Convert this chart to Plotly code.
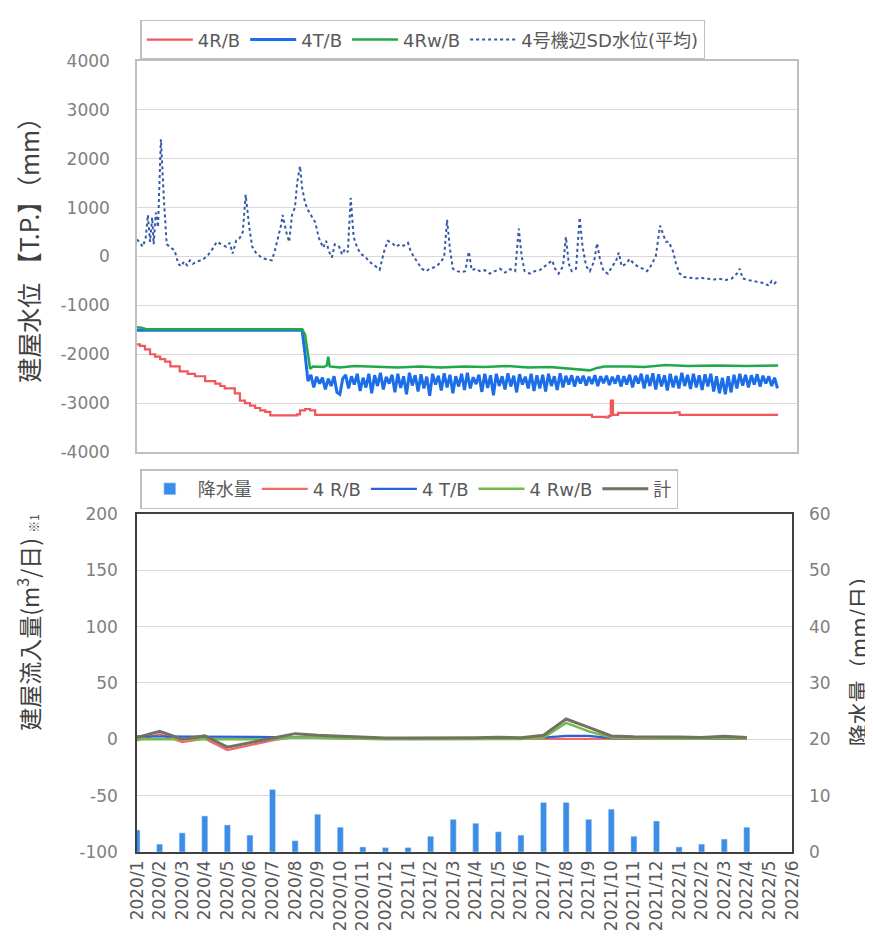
import pandas as pd
import plotly.graph_objects as go

START = pd.Timestamp("2020-01-01")

# ---- top panel: building water level [T.P. mm], x = days since 2020-01-01 ----
r_b_days = [0, 4, 11, 18, 25, 32, 39, 46, 57, 59, 68, 70, 80, 90, 94, 104, 108, 115,
            121, 131, 135, 142, 149, 156, 163, 170, 177, 184, 204, 221, 225, 232, 239,
            246, 625, 628, 647, 651, 654, 657, 664, 742, 749, 885]
r_b_level = [-1800, -1830, -1900, -2000, -2050, -2100, -2150, -2250, -2250, -2350, -2350,
             -2400, -2450, -2450, -2550, -2550, -2600, -2650, -2700, -2700, -2800, -2950,
             -3000, -3050, -3100, -3150, -3180, -3250, -3250, -3230, -3150, -3120, -3150,
             -3240, -3240, -3280, -3290, -3260, -2950, -3240, -3200, -3190, -3240, -3240]

t_b_head_days = [0, 228, 232]
t_b_head = [-1510, -1510, -2000]
t_b_noise_start = 236   # readings every 4th day from here on
t_b_noise = [
    -2550, -2420, -2680, -2460, -2600, -2480, -2720, -2500, -2650, -2450,
    -2780, -2820, -2500, -2420, -2700, -2450, -2620, -2400, -2750, -2480,
    -2680, -2400, -2800, -2430, -2650, -2380, -2720, -2460, -2600, -2420,
    -2780, -2400, -2690, -2450, -2820, -2380, -2640, -2430, -2760, -2410,
    -2700, -2460, -2850, -2400, -2620, -2440, -2740, -2390, -2680, -2420,
    -2800, -2450, -2660, -2400, -2730, -2380, -2700, -2470, -2610, -2420,
    -2770, -2400, -2690, -2430, -2840, -2400, -2650, -2450, -2720, -2390,
    -2660, -2440, -2780, -2410, -2620, -2460, -2700, -2400, -2750, -2430,
    -2700, -2420, -2760, -2400, -2650, -2450, -2730, -2390, -2680, -2440,
    -2620, -2430, -2660, -2450, -2600, -2440, -2640, -2460, -2610, -2430,
    -2650, -2450, -2590, -2440, -2630, -2460, -2600, -2430, -2660, -2450,
    -2620, -2420, -2680, -2440, -2600, -2400, -2700, -2420, -2650, -2390,
    -2720, -2410, -2660, -2430, -2740, -2400, -2680, -2440, -2700, -2380,
    -2650, -2420, -2710, -2400, -2680, -2430, -2730, -2410, -2660, -2400,
    -2760, -2450, -2800, -2480, -2820, -2450, -2780, -2420, -2700, -2400,
    -2640, -2420, -2680, -2430, -2620, -2410, -2660, -2440, -2600, -2450,
    -2650, -2480, -2700,
]

rw_b_days = [0, 6, 13, 228, 232, 236, 239, 243, 250, 258, 262, 264, 266, 280, 300, 330,
             360, 390, 420, 450, 480, 510, 540, 570, 600, 615, 625, 635, 645, 680, 700,
             730, 760, 800, 840, 885]
rw_b_level = [-1450, -1460, -1490, -1490, -1600, -2000, -2300, -2250, -2250, -2260, -2230,
              -2050, -2250, -2270, -2240, -2260, -2270, -2250, -2270, -2250, -2260, -2240,
              -2270, -2260, -2290, -2320, -2330, -2280, -2250, -2250, -2260, -2220, -2240,
              -2230, -2240, -2230]

sd_days = [0, 4, 8, 12, 15, 18, 21, 23, 26, 29, 33, 37, 41, 47, 52, 57, 61, 65, 69, 73,
           77, 81, 87, 92, 98, 104, 110, 117, 123, 128, 132, 137, 142, 146, 150, 155, 159,
           164, 170, 175, 181, 186, 190, 195, 199, 201, 206, 210, 214, 218, 221, 225, 228,
           232, 236, 240, 246, 251, 257, 261, 265, 269, 273, 279, 283, 287, 291, 295, 299,
           304, 309, 315, 320, 326, 331, 335, 341, 346, 352, 357, 363, 368, 374, 378, 382,
           388, 393, 399, 404, 410, 415, 420, 424, 428, 432, 436, 442, 447, 453, 458, 462,
           468, 473, 480, 487, 494, 501, 508, 515, 522, 527, 531, 535, 542, 549, 556, 563,
           569, 573, 577, 582, 588, 592, 596, 600, 606, 611, 615, 620, 625, 631, 635, 639,
           644, 650, 656, 661, 665, 669, 675, 680, 686, 691, 698, 704, 709, 716, 722, 726,
           730, 734, 740, 744, 749, 755, 763, 771, 780, 788, 796, 805, 813, 821, 828, 832,
           836, 843, 851, 860, 867, 872, 876, 880, 885]
sd_level = [350, 280, 200, 380, 850, 300, 800, 250, 900, 600, 2400, 1200, 250, 180, 120,
            -150, -200, -100, -180, -80, -150, -120, -90, -50, 30, 150, 300, 250, 200, 280,
            60, 330, 380, 500, 1260, 600, 200, 80, 0, -40, -60, -80, 100, 400, 650, 850,
            500, 300, 850, 1000, 1500, 1850, 1400, 1100, 950, 850, 700, 380, 180, 320, 100,
            -20, 250, 200, 40, 150, 90, 1200, 400, 180, 50, 0, -100, -160, -230, -270, 100,
            320, 280, 200, 250, 220, 280, 100, 0, -150, -250, -300, -250, -220, -180, -100,
            0, 750, 150, -250, -300, -320, -300, 100, -280, -250, -300, -280, -350, -300,
            -250, -330, -260, -300, 570, 0, -300, -350, -300, -280, -200, -120, -80, -250,
            -350, -200, 400, -150, -300, -250, 800, 200, -200, -300, -100, 270, -50, -300,
            -350, -200, -100, 80, -200, -150, -50, -150, -200, -250, -300, -200, 0, 630,
            450, 300, 300, 100, -150, -350, -420, -430, -450, -440, -450, -470, -460, -480,
            -450, -350, -250, -450, -480, -500, -520, -550, -600, -500, -550, -480]

level_ticks = [-4000, -3000, -2000, -1000, 0, 1000, 2000, 3000, 4000]

# ---- bottom panel: monthly inflow [m3/day] and rainfall [mm/day] ----
months = ["2020/1", "2020/2", "2020/3", "2020/4", "2020/5", "2020/6", "2020/7", "2020/8",
          "2020/9", "2020/10", "2020/11", "2020/12", "2021/1", "2021/2", "2021/3", "2021/4",
          "2021/5", "2021/6", "2021/7", "2021/8", "2021/9", "2021/10", "2021/11", "2021/12",
          "2022/1", "2022/2", "2022/3", "2022/4", "2022/5", "2022/6"]
rainfall = [3.9, 1.4, 3.4, 6.4, 4.8, 3.0, 11.1, 2.0, 6.7, 4.4, 0.9, 0.8, 0.8, 2.8, 5.8,
            5.1, 3.6, 3.0, 8.8, 8.8, 5.8, 7.6, 2.8, 5.5, 0.9, 1.4, 2.3, 4.4, None, None]
inflow_r_b = [-1, 4.5, -2.5, 0.5, -9.5, -5.5, -1, 2, 1.5, 1, 0.5, 0.3, 0.3, 0.3, 0.3, 0.3,
              0.5, 0.3, 0.5, 0.5, 0.5, 0.5, 0.3, 0.3, 0.3, 0.3, 0.5, 0.3]
inflow_t_b = [2.5, 2.5, 2.5, 2.5, 2.5, 2.5, 2.0, 1.5, 1.0, 1.0, 1.0, 0.8, 0.8, 0.8, 0.8,
              0.8, 0.8, 0.8, 1.5, 3.0, 3.0, 1.0, 1.0, 1.0, 1.0, 0.8, 1.0, 0.8]
inflow_rw_b = [0, 0, 0, 0, 0, 0, 0, 1.5, 1, 0.5, 0.3, 0, 0, 0, 0, 0.2, 0.5, 0.2, 1.5, 14.5,
               7, 1.5, 1, 1, 0.8, 0.5, 1.2, 0.5]
inflow_total = [1.5, 7.0, 0, 3.0, -7.0, -3.0, 1.0, 5.0, 3.5, 2.5, 1.8, 1.1, 1.1, 1.1, 1.1,
                1.3, 1.8, 1.3, 3.5, 18.0, 10.5, 3.0, 2.3, 2.3, 2.1, 1.6, 2.7, 1.6]
inflow_ticks = [-100, -50, 0, 50, 100, 150, 200]
rain_ticks = [0, 10, 20, 30, 40, 50, 60]


def to_dates(days):
    return [START + pd.Timedelta(days=d) for d in days]


def plain_labels(vals):
    # Excel-style hyphen instead of plotly's unicode minus
    return [str(v) for v in vals]


t_b_days = t_b_head_days + [t_b_noise_start + 4 * i for i in range(len(t_b_noise))]
t_b_level = t_b_head + t_b_noise

FONT = "DejaVu Sans, Noto Sans CJK JP, sans-serif"
CJK = "Noto Sans CJK JP, sans-serif"
TICK = dict(family=FONT, size=17, color="#808080")

fig = go.Figure()

# top panel
fig.add_trace(go.Scatter(x=to_dates(r_b_days), y=r_b_level, name="4R/B", mode="lines",
                         line=dict(color="#f0565a", width=2.2, shape="hv"),
                         xaxis="x", yaxis="y", legend="legend"))
fig.add_trace(go.Scatter(x=to_dates(t_b_days), y=t_b_level, name="4T/B", mode="lines",
                         line=dict(color="#1b6ee8", width=3),
                         xaxis="x", yaxis="y", legend="legend"))
fig.add_trace(go.Scatter(x=to_dates(rw_b_days), y=rw_b_level, name="4Rw/B", mode="lines",
                         line=dict(color="#22a84a", width=2.5),
                         xaxis="x", yaxis="y", legend="legend"))
fig.add_trace(go.Scatter(x=to_dates(sd_days), y=sd_level, name="4号機辺SD水位(平均)",
                         mode="lines", line=dict(color="#3558a8", width=2, dash="dot"),
                         xaxis="x", yaxis="y", legend="legend"))

# bottom panel
fig.add_trace(go.Bar(x=months, y=rainfall, name="降水量", marker_color="#3a8ee8",
                     width=0.27, xaxis="x2", yaxis="y3", legend="legend2"))
fig.add_trace(go.Scatter(x=months[:len(inflow_r_b)], y=inflow_r_b, name="4 R/B",
                         mode="lines", line=dict(color="#f06a6a", width=2.2),
                         xaxis="x2", yaxis="y2", legend="legend2"))
fig.add_trace(go.Scatter(x=months[:len(inflow_t_b)], y=inflow_t_b, name="4 T/B",
                         mode="lines", line=dict(color="#2a62d8", width=2.2),
                         xaxis="x2", yaxis="y2", legend="legend2"))
fig.add_trace(go.Scatter(x=months[:len(inflow_rw_b)], y=inflow_rw_b, name="4 Rw/B",
                         mode="lines", line=dict(color="#72bb4c", width=2.5),
                         xaxis="x2", yaxis="y2", legend="legend2"))
fig.add_trace(go.Scatter(x=months[:len(inflow_total)], y=inflow_total, name="計",
                         mode="lines", line=dict(color="#75705f", width=3),
                         xaxis="x2", yaxis="y2", legend="legend2"))

legend_style = dict(orientation="h", xanchor="left", yanchor="top", itemwidth=46,
                    bgcolor="white", bordercolor="#bfbfbf", borderwidth=1.5,
                    font=dict(family=FONT, size=18, color="#595959"))

fig.update_layout(
    width=865, height=934,
    margin=dict(l=129, r=76, t=51, b=90),
    paper_bgcolor="white", plot_bgcolor="white",
    font=dict(family=FONT, color="#595959"),
    legend=dict(x=0.005, y=1.052, **legend_style),
    legend2=dict(x=0.005, y=0.484, **legend_style),
    xaxis=dict(domain=[0, 1], anchor="y", type="date",
               range=[START, START + pd.Timedelta(days=911)],
               showticklabels=False, ticks="", showgrid=False, zeroline=False,
               showline=True, linecolor="#bfbfbf", linewidth=1.5, mirror=True),
    yaxis=dict(domain=[0.5057, 1.0], anchor="x", range=[-4000, 4000],
               tickmode="array", tickvals=level_ticks, ticktext=plain_labels(level_ticks),
               tickfont=TICK, ticklabelstandoff=22, showgrid=True,
               gridcolor="#d9d9d9", gridwidth=1, zeroline=False,
               showline=True, linecolor="#bfbfbf", linewidth=1.5, mirror=True),
    xaxis2=dict(domain=[0, 0.9924], anchor="y2", type="category", range=[0, 29],
                dtick=1, tickangle=-90, ticks="", showgrid=False, zeroline=False,
                tickfont=dict(family=FONT, size=17, color="#595959"),
                showline=True, linecolor="#404040", linewidth=1.5, mirror=True),
    yaxis2=dict(domain=[0, 0.4275], anchor="x2", range=[-100, 200],
                tickmode="array", tickvals=inflow_ticks, ticktext=plain_labels(inflow_ticks),
                tickfont=TICK, ticklabelstandoff=14, showgrid=True,
                gridcolor="#d9d9d9", gridwidth=1, zeroline=False,
                showline=True, linecolor="#404040", linewidth=1.5, mirror=True),
    yaxis3=dict(overlaying="y2", anchor="x2", side="right", range=[0, 60],
                tickmode="array", tickvals=rain_ticks, ticktext=plain_labels(rain_ticks),
                tickfont=TICK, ticklabelstandoff=16, showgrid=False, zeroline=False,
                showline=False),
    annotations=[
        dict(text="建屋水位 【T.P.】（mm）", xref="paper", yref="paper",
             x=-0.165, y=0.769, xanchor="center", yanchor="middle", textangle=-90,
             showarrow=False, font=dict(family=CJK, size=25, color="#404040")),
        dict(text='建屋流入量(m<sup>3</sup>/日) <span style="font-size:12px">※1</span>',
             xref="paper", yref="paper", x=-0.165, y=0.29, xanchor="center",
             yanchor="middle", textangle=-90, showarrow=False,
             font=dict(family=CJK, size=23, color="#404040")),
        dict(text="降水量（mm/日）", xref="paper", yref="paper",
             x=1.09, y=0.248, xanchor="center", yanchor="middle", textangle=-90,
             showarrow=False, font=dict(family=CJK, size=22, color="#404040")),
    ],
)

fig.write_html("out.html")
